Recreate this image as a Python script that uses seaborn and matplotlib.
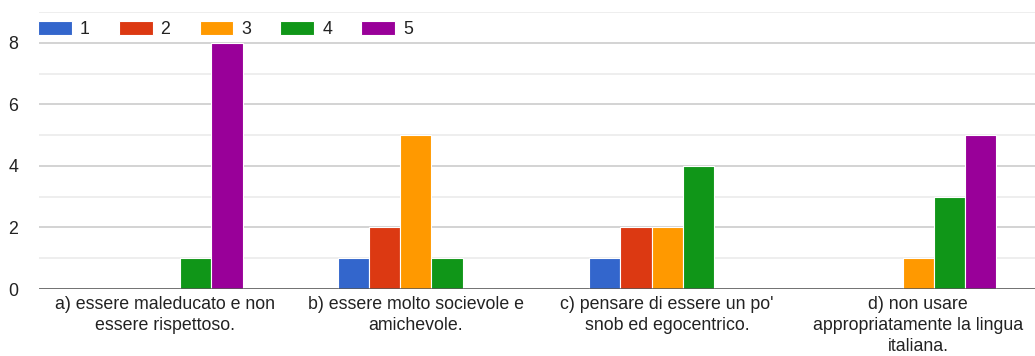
import matplotlib
matplotlib.use("Agg")
import matplotlib.pyplot as plt
import seaborn as sns
import pandas as pd
import numpy as np

categories = [
    "a) essere maleducato e non\nessere rispettoso.",
    "b) essere molto socievole e\namichevole.",
    "c) pensare di essere un po'\nsnob ed egocentrico.",
    "d) non usare\nappropriatamente la lingua\nitaliana.",
]
ratings = ["1", "2", "3", "4", "5"]
counts_1 = [0, 1, 1, 0]
counts_2 = [0, 2, 2, 0]
counts_3 = [0, 5, 2, 1]
counts_4 = [1, 1, 4, 3]
counts_5 = [8, 0, 0, 5]
colors = ["#3366cc", "#dc3912", "#ff9900", "#109618", "#990099"]

series = [counts_1, counts_2, counts_3, counts_4, counts_5]
rows = []
for r, vals in zip(ratings, series):
    for c, v in zip(categories, vals):
        rows.append({"cat": c, "rating": r, "count": v})
df = pd.DataFrame(rows)

sns.set_theme(style="white")
plt.rcParams["font.family"] = ["Liberation Sans", "DejaVu Sans"]
FS = 12.8

fig = plt.figure(figsize=(10.35, 3.56), dpi=100)
ax = fig.add_axes([39 / 1035, 1 - 289 / 356, 1005 / 1035, 277 / 356])

sns.barplot(data=df, x="cat", y="count", hue="rating", palette=colors,
            width=0.62, gap=0, edgecolor="white", linewidth=0.8,
            saturation=1, ax=ax, legend=True, zorder=3)

ax.set_ylim(0, 9)
ax.set_xlim(-0.5, 3.5)
ax.set_yticks([0, 2, 4, 6, 8])
ax.set_yticks([1, 3, 5, 7, 9], minor=True)
ax.grid(axis="y", which="major", color="#cccccc", linewidth=1.2, zorder=0)
ax.grid(axis="y", which="minor", color="#ebebeb", linewidth=1.2, zorder=0)
ax.set_axisbelow(True)
for s in ax.spines.values():
    s.set_visible(False)
ax.axhline(0, color="#555555", linewidth=1.8, zorder=5)
ax.set_xlabel("")
ax.set_ylabel("")
ax.tick_params(axis="y", which="both", length=0, pad=15, labelsize=FS, labelcolor="#222222")
ax.tick_params(axis="x", length=0, pad=5, labelsize=FS, labelcolor="#222222")
for lbl in ax.get_xticklabels():
    lbl.set_linespacing(1.3)
    lbl.set_verticalalignment("top")

ax.legend(loc="upper left", bbox_to_anchor=(38 / 1035, 1 - 21 / 356),
          bbox_transform=fig.transFigure, ncol=5, frameon=False,
          handlelength=1.9, handleheight=0.85, handletextpad=0.45,
          columnspacing=1.64, fontsize=FS, borderaxespad=0, borderpad=0,
          labelcolor="#222222")

fig.savefig("out.png", dpi=100)
